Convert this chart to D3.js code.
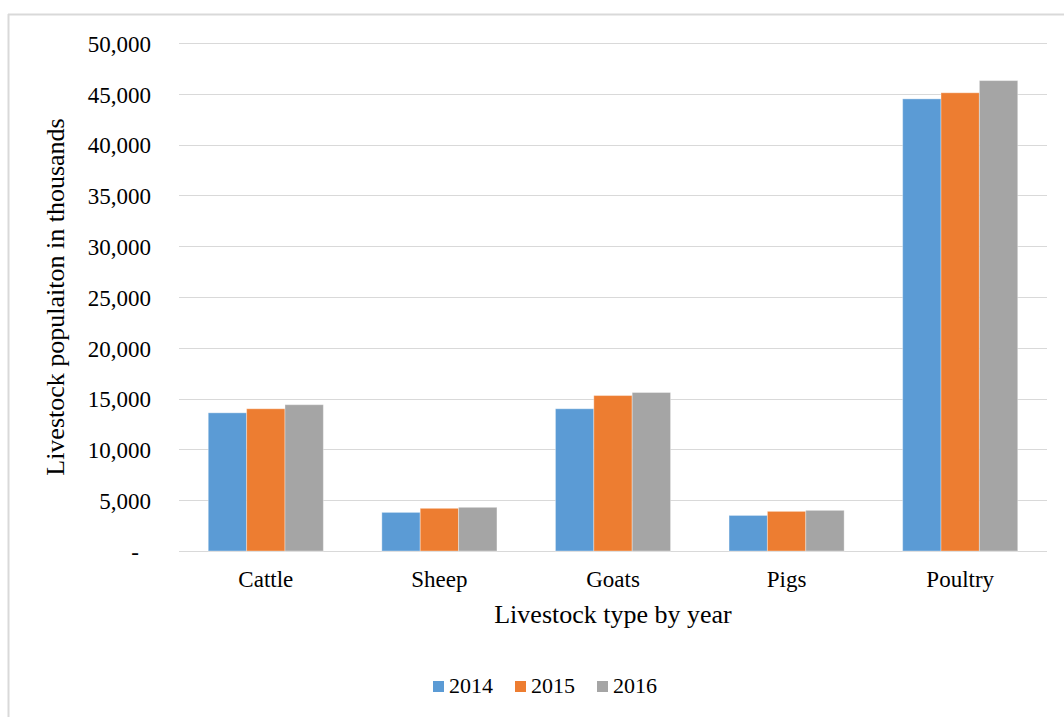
<!DOCTYPE html>
<html>
<head>
<meta charset="utf-8">
<script src="https://cdn.jsdelivr.net/npm/d3@7"></script>
<style>
  html, body { margin: 0; padding: 0; background: #fff; }
  svg { display: block; }
  text { font-family: "Liberation Serif", "Times New Roman", serif; fill: #000; }
</style>
</head>
<body>
<svg id="chart" width="1064" height="717"></svg>
<script>
const categories = ["Cattle", "Sheep", "Goats", "Pigs", "Poultry"];
const years = ["2014", "2015", "2016"];
const values2014 = [13600, 3800, 14000, 3500, 44500];
const values2015 = [14000, 4200, 15300, 3900, 45100];
const values2016 = [14400, 4300, 15600, 4000, 46300];
const yTicks = [0, 5000, 10000, 15000, 20000, 25000, 30000, 35000, 40000, 45000, 50000];
const colors = ["#5B9BD5", "#ED7D31", "#A5A5A5"];
const xTitle = "Livestock type by year";
const yTitle = "Livestock populaiton in thousands";

const series = [values2014, values2015, values2016];

(function () {
const svg = d3.select("#chart");
const W = 1064, H = 717;
const pLeft = 179, pRight = 1047, pTop = 43, pBottom = 551;

// chart area border (top and left visible)
svg.append("line").attr("x1", 8).attr("x2", W).attr("y1", 14.5).attr("y2", 14.5)
  .attr("stroke", "#D9D9D9").attr("stroke-width", 2);
svg.append("line").attr("x1", 8.5).attr("x2", 8.5).attr("y1", 14).attr("y2", H)
  .attr("stroke", "#D9D9D9").attr("stroke-width", 2);

const x0 = d3.scaleBand().domain(categories).range([pLeft, pRight]).paddingInner(0.337).paddingOuter(0.1685);
const x1 = d3.scaleBand().domain(years).range([0, x0.bandwidth()]).padding(0);
const y = d3.scaleLinear().domain([0, 50000]).range([pBottom, pTop]);

// gridlines
svg.append("g").selectAll("line").data(yTicks).join("line")
  .attr("x1", pLeft).attr("x2", pRight)
  .attr("y1", d => Math.round(y(d)) + 0.5).attr("y2", d => Math.round(y(d)) + 0.5)
  .attr("stroke", "#D9D9D9").attr("stroke-width", 1.2);

// y axis labels
const yAxis = d3.axisLeft(y).tickValues(yTicks).tickSize(0).tickPadding(0)
  .tickFormat(d => d === 0 ? "-" : d3.format(",")(d));
const ya = svg.append("g").attr("transform", `translate(151,0)`).call(yAxis);
ya.select(".domain").remove();
ya.selectAll("text").attr("font-size", 23).attr("font-family", "Liberation Serif").attr("fill", "#000")
  .attr("dy", "0.36em")
  .attr("dx", d => d === 0 ? -12 : 0);

// bars
const groups = svg.append("g").selectAll("g").data(categories).join("g")
  .attr("transform", c => `translate(${x0(c)},0)`);
groups.selectAll("rect").data((c, i) => years.map((yr, j) => ({ yr, j, v: series[j][i] })))
  .join("rect")
  .attr("x", d => x1(d.yr))
  .attr("width", x1.bandwidth())
  .attr("y", d => y(d.v))
  .attr("height", d => y(0) - y(d.v))
  .attr("fill", d => colors[d.j])
  .attr("stroke", "#ffffff").attr("stroke-opacity", 0.35).attr("stroke-width", 1);

// x axis labels
const xAxis = d3.axisBottom(x0).tickSize(0).tickPadding(0);
const xa = svg.append("g").attr("transform", `translate(0,${pBottom})`).call(xAxis);
xa.select(".domain").remove();
xa.selectAll("text").attr("font-size", 23).attr("font-family", "Liberation Serif").attr("fill", "#000")
  .attr("y", 36).attr("dy", 0);

// axis titles
svg.append("text").attr("x", (pLeft + pRight) / 2).attr("y", 623)
  .attr("text-anchor", "middle").attr("font-size", 26).text(xTitle);
svg.append("text").attr("transform", `translate(64,${(pTop + pBottom) / 2}) rotate(-90)`)
  .attr("text-anchor", "middle").attr("font-size", 26).text(yTitle);

// legend
const legend = svg.append("g").attr("transform", "translate(433,0)");
const items = legend.selectAll("g").data(years).join("g")
  .attr("transform", (d, i) => `translate(${i * 82},0)`);
items.append("rect").attr("x", 0).attr("y", 681).attr("width", 11).attr("height", 11)
  .attr("fill", (d, i) => colors[i]);
items.append("text").attr("x", 16).attr("y", 693).attr("font-size", 22).text(d => d);
})();
</script>
</body>
</html>
